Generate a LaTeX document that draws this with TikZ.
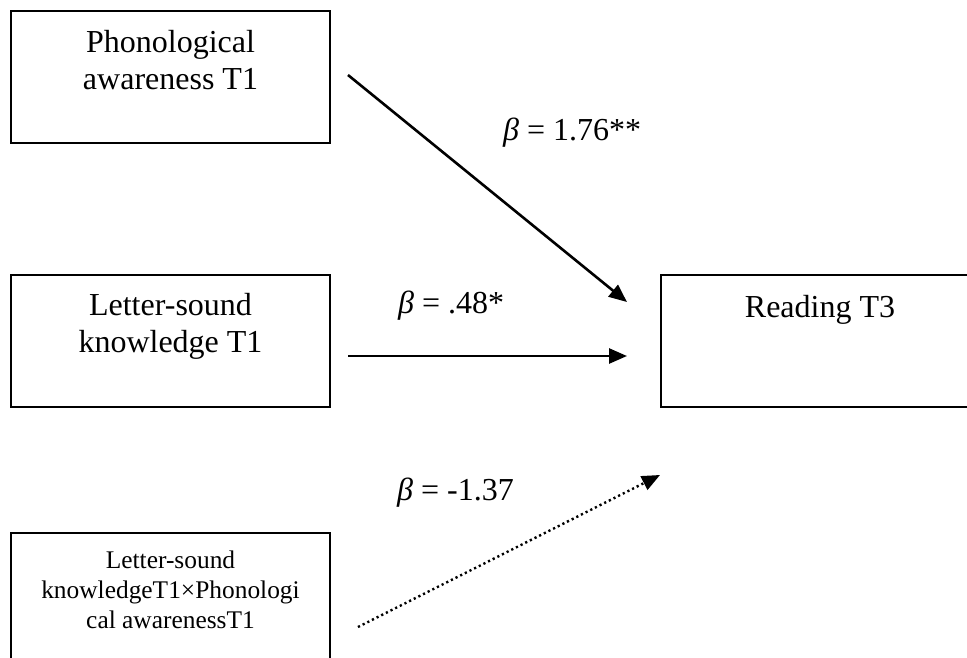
\documentclass[tikz,border=0pt]{standalone}
\usepackage{fontspec}
\setmainfont{Liberation Serif}
\usetikzlibrary{arrows.meta}
\tikzset{
  box/.style={draw, line width=2pt, minimum width=319pt, minimum height=132pt, inner sep=0pt},
  bigtxt/.style={font=\fontsize{32}{37}\selectfont, align=center, inner sep=0pt, anchor=north},
  smalltxt/.style={font=\fontsize{25.4}{30}\selectfont, align=center, inner sep=0pt, anchor=north},
  coef/.style={font=\fontsize{32}{37}\selectfont, inner sep=0pt, anchor=base west},
  conn/.style={line width=2.6pt, -{Triangle[length=18pt,width=15pt]}},
  dotconn/.style={line width=2.4pt, dash pattern=on 2.2pt off 3pt, -{Triangle[length=18pt,width=15pt]}}
}
\begin{document}
\begin{tikzpicture}[x=1pt,y=-1pt]
\useasboundingbox (0,0) rectangle (967,657);
\clip (0,0) rectangle (967,657);
% boxes
\node[box] (pa) at (170.5,77) {};
\node[box] (lsk) at (170.5,341) {};
\node[box] (inter) at (170.5,599) {};
\node[box] (read) at (820,341) {};
% box texts
\node[bigtxt] (patxt) at (170.5,27) {\rule{0pt}{25pt}Phonological\\awareness T1};
\node[bigtxt] (lsktxt) at (170.5,290) {\rule{0pt}{25pt}Letter-sound\\knowledge T1};
\node[bigtxt] (readtxt) at (820,292) {\rule{0pt}{25pt}Reading T3};
\node[smalltxt] (intertxt) at (170.5,548) {\rule{0pt}{20pt}Letter-sound\\knowledgeT1×Phonologi\\cal awarenessT1};
% connector end points
\coordinate (a1s) at (348,75);
\coordinate (a1e) at (627,302);
\coordinate (a2s) at (348,356);
\coordinate (a2e) at (627,356);
\coordinate (a3s) at (358,627);
\coordinate (a3e) at (660,475);
% connectors
\draw[conn] (a1s) -- (a1e);
\draw[conn] (a2s) -- (a2e);
\draw[dotconn] (a3s) -- (a3e);
% coefficients
\node[coef] (c1) at (503,140) {\textit{β} = 1.76**};
\node[coef] (c2) at (398,313) {\textit{β} = .48*};
\node[coef] (c3) at (397,500) {\textit{β} = -1.37};
\end{tikzpicture}
\end{document}
